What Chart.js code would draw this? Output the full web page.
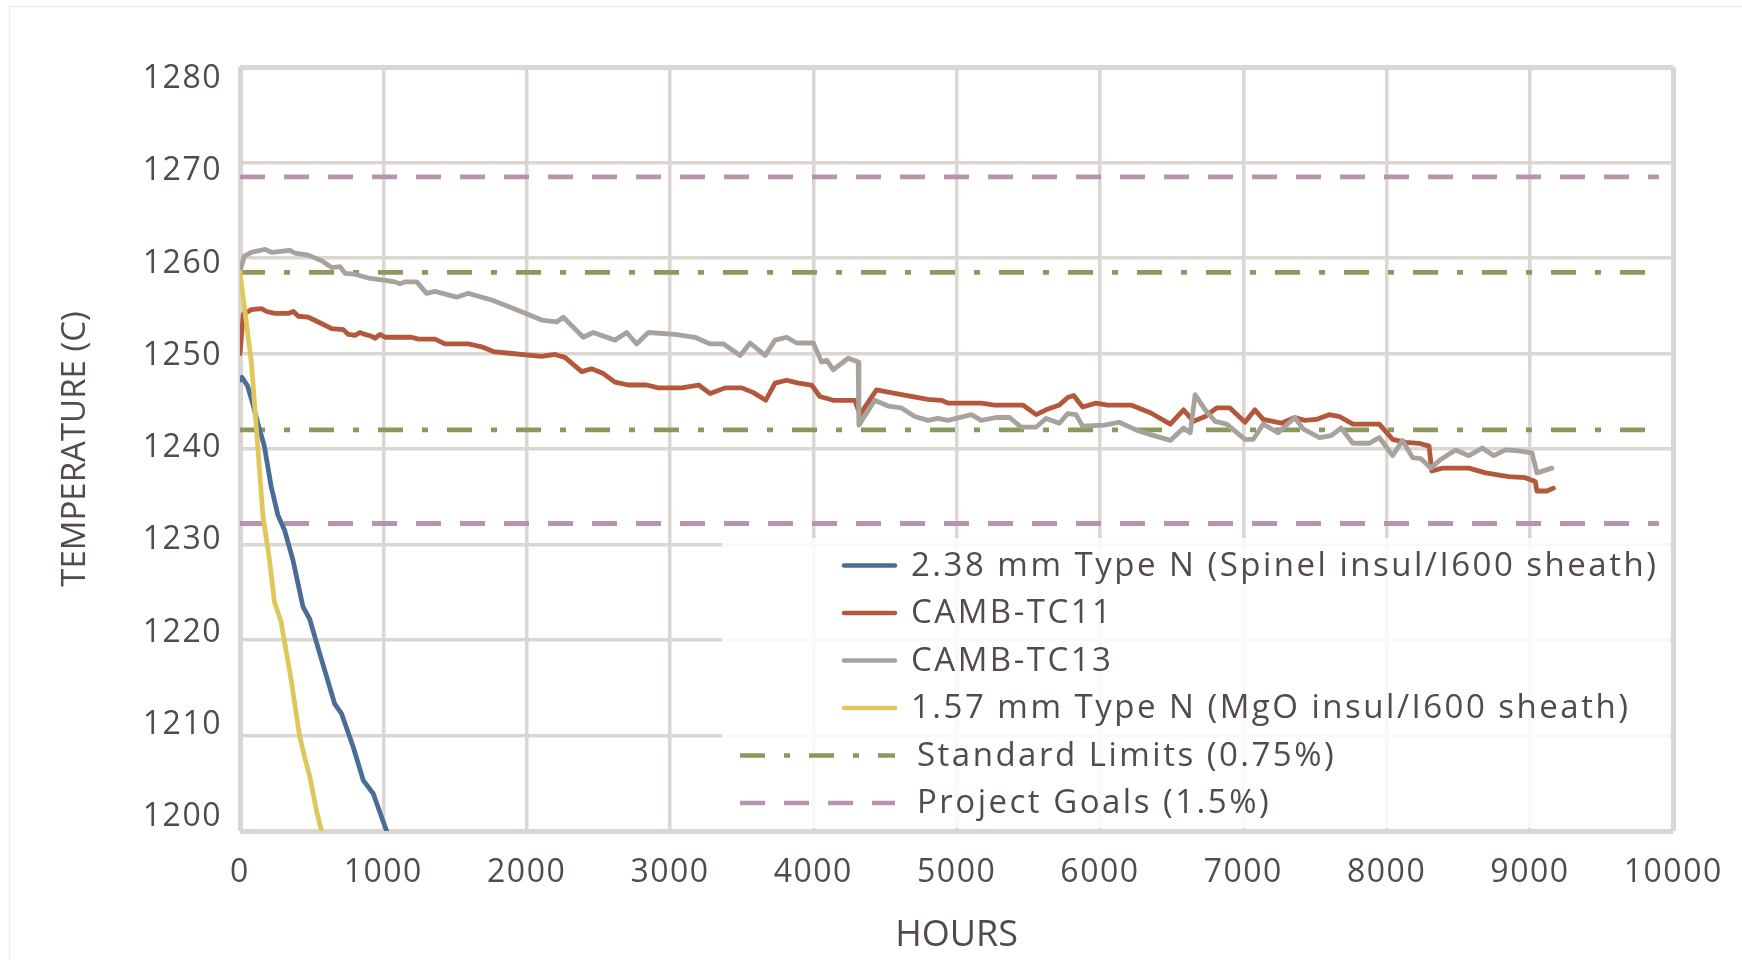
<!DOCTYPE html>
<html>
<head>
<meta charset="utf-8">
<script src="https://cdn.jsdelivr.net/npm/chart.js@4.4.1/dist/chart.umd.min.js"></script>
<style>
  html, body { margin: 0; padding: 0; background: #fff; }
  #wrap { width: 1742px; height: 960px; position: relative; }
</style>
</head>
<body>
<div id="wrap"><canvas id="chart" width="1742" height="960"></canvas></div>
<script>
// --- adatok (leolvasva az ábráról) ---
const xTicks = [0, 1000, 2000, 3000, 4000, 5000, 6000, 7000, 8000, 9000, 10000];
const yTicks = [1200, 1210, 1220, 1230, 1240, 1250, 1260, 1270, 1280];

// 2.38 mm Type N (Spinel insul/I600 sheath)
const typeN238Hours = [0, 14, 53, 88, 124, 170, 217, 264, 311, 369, 439, 486, 556, 661, 708, 790, 860, 930, 1023];
const typeN238Temp = [1247.2, 1247.5, 1246.6, 1244.8, 1242.7, 1240.3, 1236.1, 1233.1, 1231.5, 1228.4, 1223.5, 1222.2, 1218.6, 1213.3, 1212.3, 1208.8, 1205.3, 1203.9, 1200.0];

// CAMB-TC11
const tc11Hours = [0, 23, 80, 150, 186, 244, 337, 372, 407, 477, 547, 640, 721, 756, 802, 837, 872, 919, 942, 977,
  1012, 1198, 1244, 1360, 1430, 1593, 1686, 1767, 1895, 2105, 2198, 2267, 2384, 2453, 2535, 2616, 2709, 2837, 2919, 3081,
  3200, 3281, 3385, 3501, 3582, 3668, 3733, 3814, 3896, 3988, 4046, 4139, 4290, 4325, 4441, 4615, 4800, 4893, 4940, 5172,
  5265, 5462, 5555, 5624, 5717, 5775, 5817, 5879, 5972, 6053, 6216, 6352, 6491, 6583, 6653, 6734, 6815, 6907, 7012, 7081,
  7139, 7266, 7359, 7428, 7509, 7602, 7671, 7764, 7949, 8042, 8134, 8227, 8296, 8315, 8389, 8574, 8690, 8852, 8968, 9037,
  9049, 9118, 9164];
const tc11Temp = [1250.0, 1254.1, 1254.6, 1254.7, 1254.4, 1254.2, 1254.2, 1254.4, 1253.9, 1253.8, 1253.3, 1252.6, 1252.5, 1252.0, 1251.9, 1252.2, 1252.0, 1251.8, 1251.6, 1252.0,
  1251.7, 1251.7, 1251.5, 1251.5, 1251.0, 1251.0, 1250.7, 1250.2, 1250.0, 1249.7, 1249.9, 1249.6, 1248.1, 1248.4, 1247.9, 1247.0, 1246.7, 1246.7, 1246.4, 1246.4,
  1246.7, 1245.8, 1246.4, 1246.4, 1245.9, 1245.1, 1246.9, 1247.2, 1246.9, 1246.7, 1245.5, 1245.1, 1245.1, 1243.6, 1246.2, 1245.7, 1245.2, 1245.1, 1244.8, 1244.8,
  1244.6, 1244.6, 1243.6, 1244.1, 1244.6, 1245.4, 1245.6, 1244.4, 1244.8, 1244.6, 1244.6, 1243.8, 1242.6, 1244.1, 1242.9, 1243.4, 1244.3, 1244.3, 1242.8, 1244.1,
  1243.1, 1242.7, 1243.3, 1243.0, 1243.1, 1243.6, 1243.4, 1242.6, 1242.6, 1241.0, 1240.7, 1240.6, 1240.3, 1237.7, 1238.0, 1238.0, 1237.5, 1237.1, 1237.0, 1236.6,
  1235.6, 1235.6, 1235.9];

// CAMB-TC13
const tc13Hours = [0, 30, 80, 175, 220, 350, 384, 477, 570, 640, 698, 733, 802, 895, 988, 1081, 1116, 1151, 1233, 1302,
  1360, 1512, 1593, 1756, 1895, 2105, 2209, 2256, 2395, 2465, 2616, 2698, 2767, 2849, 3035, 3174, 3281, 3374, 3490, 3559,
  3664, 3733, 3814, 3884, 4000, 4058, 4093, 4139, 4244, 4313, 4318, 4429, 4522, 4615, 4708, 4800, 4870, 4940, 5102, 5172,
  5276, 5369, 5450, 5555, 5624, 5717, 5775, 5833, 5879, 6030, 6135, 6251, 6352, 6491, 6583, 6630, 6664, 6734, 6803, 6884,
  7012, 7069, 7139, 7243, 7359, 7417, 7532, 7613, 7683, 7764, 7880, 7949, 8042, 8111, 8181, 8238, 8308, 8377, 8481, 8574,
  8667, 8748, 8829, 8921, 9014, 9049, 9153];
const tc13Temp = [1258.6, 1260.2, 1260.6, 1260.9, 1260.6, 1260.8, 1260.5, 1260.3, 1259.7, 1259.0, 1259.1, 1258.4, 1258.3, 1257.9, 1257.7, 1257.5, 1257.3, 1257.5, 1257.5, 1256.3,
  1256.5, 1255.9, 1256.3, 1255.6, 1254.8, 1253.5, 1253.3, 1253.8, 1251.7, 1252.2, 1251.4, 1252.2, 1251.0, 1252.2, 1252.0, 1251.7, 1251.0, 1251.0, 1249.8, 1251.1,
  1249.8, 1251.4, 1251.7, 1251.1, 1251.1, 1249.1, 1249.3, 1248.3, 1249.5, 1249.1, 1242.5, 1245.1, 1244.5, 1244.3, 1243.4, 1243.0, 1243.2, 1243.0, 1243.6, 1243.0,
  1243.3, 1243.3, 1242.3, 1242.3, 1243.2, 1242.7, 1243.7, 1243.6, 1242.4, 1242.5, 1242.8, 1242.0, 1241.5, 1240.9, 1242.2, 1241.7, 1245.7, 1244.1, 1242.9, 1242.6,
  1241.0, 1241.0, 1242.6, 1241.7, 1243.3, 1242.1, 1241.2, 1241.4, 1242.2, 1240.6, 1240.6, 1241.2, 1239.3, 1240.9, 1239.1, 1239.0, 1238.0, 1238.9, 1239.9, 1239.3,
  1240.1, 1239.3, 1239.9, 1239.8, 1239.6, 1237.5, 1238.0];

// 1.57 mm Type N (MgO insul/I600 sheath)
const typeN157Hours = [0, 80, 115, 160, 205, 240, 285, 355, 415, 450, 490, 535, 570];
const typeN157Temp = [1258.5, 1249.0, 1242.0, 1233.0, 1228.5, 1224.0, 1222.0, 1216.0, 1210.0, 1207.8, 1205.5, 1202.0, 1200.0];

// vízszintes határvonalak
const limitHours = [0, 9900];
const standardUpper = 1258.5;
const standardLower = 1242.0;
const projectUpper = 1268.5;
const projectLower = 1232.2;

// --- színek ---
const C_BLUE = '#4a6d97';
const C_RED = '#b3583b';
const C_GRAY = '#a8a19c';
const C_YELLOW = '#e0c75c';
const C_GREEN = '#8b9a5c';
const C_PURPLE = '#b893ad';
const C_GRID = '#dcd6d2';
const C_TEXT = '#524b48';

const DASH_STD = [25, 19, 6, 19];
const DASH_PROJ = [25, 19];

function toPoints(xs, ys) {
  return xs.map((x, i) => ({ x: x, y: ys[i] }));
}
function flatLine(v) {
  return limitHours.map(h => ({ x: h, y: v }));
}

const lineBase = { pointRadius: 0, borderWidth: 4.8, tension: 0, borderJoinStyle: 'round', borderCapStyle: 'round', fill: false };
const refBase = { ...lineBase, borderCapStyle: 'butt', borderWidth: 4.8 };

const datasets = [
  { ...lineBase, label: '2.38 mm Type N (Spinel insul/I600 sheath)', data: toPoints(typeN238Hours, typeN238Temp), borderColor: C_BLUE, order: 3 },
  { ...lineBase, label: 'CAMB-TC11', data: toPoints(tc11Hours, tc11Temp), borderColor: C_RED, order: 2 },
  { ...lineBase, label: 'CAMB-TC13', data: toPoints(tc13Hours, tc13Temp), borderColor: C_GRAY, order: 1 },
  { ...lineBase, label: '1.57 mm Type N (MgO insul/I600 sheath)', data: toPoints(typeN157Hours, typeN157Temp), borderColor: C_YELLOW, order: 0 },
  { ...refBase, label: 'Standard Limits (0.75%)', data: flatLine(standardUpper), borderColor: C_GREEN, borderDash: DASH_STD, order: 4 },
  { ...refBase, label: 'Standard Limits (0.75%)', data: flatLine(standardLower), borderColor: C_GREEN, borderDash: DASH_STD, order: 4 },
  { ...refBase, label: 'Project Goals (1.5%)', data: flatLine(projectUpper), borderColor: C_PURPLE, borderDash: DASH_PROJ, order: 5 },
  { ...refBase, label: 'Project Goals (1.5%)', data: flatLine(projectLower), borderColor: C_PURPLE, borderDash: DASH_PROJ, order: 5 }
];

// halvány keret a kép szélén
const framePlugin = {
  id: 'frame',
  beforeDraw(chart) {
    const ctx = chart.ctx;
    ctx.letterSpacing = '0px';
    ctx.save();
    ctx.strokeStyle = '#ececec';
    ctx.lineWidth = 1.5;
    ctx.beginPath();
    ctx.moveTo(9.5, chart.height);
    ctx.lineTo(9.5, 6.5);
    ctx.lineTo(chart.width, 6.5);
    ctx.stroke();
    ctx.restore();
  },
  // a tengelyfeliratok ritkított betűközzel
  afterDatasetsDraw(chart) {
    chart.ctx.letterSpacing = '1.5px';
  }
};

// jelmagyarázat a rajzterületen belül
const legendPlugin = {
  id: 'insideLegend',
  afterDraw(chart) {
    const ctx = chart.ctx;
    const area = chart.chartArea;
    ctx.save();
    ctx.fillStyle = 'rgba(255,255,255,0.85)';
    ctx.fillRect(722, 538, area.right - 3 - 722, area.bottom - 3 - 538);

    const seen = [];
    chart.data.datasets.forEach(ds => {
      if (seen.find(s => s.label === ds.label)) return;
      seen.push(ds);
    });

    ctx.font = '33px "Open Sans"';
    ctx.letterSpacing = '2.5px';
    ctx.textBaseline = 'middle';
    ctx.textAlign = 'left';
    seen.forEach((ds, i) => {
      const y = 565.5 + i * 47.5;
      const dashed = !!ds.borderDash;
      ctx.strokeStyle = ds.borderColor;
      ctx.lineWidth = 4.5;
      ctx.lineCap = dashed ? 'butt' : 'round';
      ctx.setLineDash(dashed ? ds.borderDash : []);
      ctx.beginPath();
      ctx.moveTo(dashed ? 740 : 844, y);
      ctx.lineTo(895, y);
      ctx.stroke();
      ctx.setLineDash([]);
      ctx.fillStyle = C_TEXT;
      ctx.fillText(ds.label, dashed ? 917 : 911, y + 1);
    });
    ctx.restore();
  }
};

const edgeWidth = (edgeA, edgeB) => (c) => (c.tick && (c.tick.value === edgeA || c.tick.value === edgeB)) ? 5 : 3.5;

new Chart(document.getElementById('chart'), {
  type: 'line',
  data: { datasets: datasets },
  plugins: [framePlugin, legendPlugin],
  options: {
    responsive: false,
    animation: false,
    devicePixelRatio: 1,
    layout: { padding: { top: 67, right: 68, bottom: 0, left: 0 } },
    plugins: { legend: { display: false }, tooltip: { enabled: false } },
    scales: {
      x: {
        type: 'linear', min: 0, max: 10000,
        afterBuildTicks: s => { s.ticks = xTicks.map(v => ({ value: v })); },
        grid: { color: C_GRID, lineWidth: edgeWidth(0, 10000), drawTicks: false },
        border: { display: false },
        ticks: { z: 1, padding: 23, color: C_TEXT, maxRotation: 0, autoSkip: false,
          font: { family: 'Open Sans', size: 32 }, callback: v => String(v) },
        title: { display: true, text: 'HOURS', color: C_TEXT, font: { family: 'Open Sans', size: 36 },
          padding: { top: 0, bottom: 3 } },
        afterFit: s => { s.height = 129; }
      },
      y: {
        type: 'linear', min: 1200, max: 1280, position: 'left', weight: 0,
        afterBuildTicks: s => { s.ticks = yTicks.map(v => ({ value: v })); },
        grid: { color: C_GRID, lineWidth: edgeWidth(1200, 1280), drawTicks: false },
        border: { display: false },
        ticks: { display: false },
        afterFit: s => { s.width = 0; }
      },
      // külön skála csak a feliratoknak: az eredeti ábrán a címkék kissé elcsúsznak a rácshoz képest
      yl: {
        type: 'linear', min: 1198.48, max: 1281.3, position: 'left', weight: 1,
        afterBuildTicks: s => { s.ticks = yTicks.map(v => ({ value: v })); },
        grid: { display: false, drawTicks: false },
        border: { display: false },
        ticks: { z: 1, padding: 18, color: C_TEXT, font: { family: 'Open Sans', size: 32 }, callback: v => String(v) },
        title: { display: true, text: 'TEMPERATURE (C)', color: C_TEXT, font: { family: 'Open Sans', size: 33 },
          padding: { top: 56, bottom: 0 } },
        afterFit: s => { s.width = 240; }
      }
    }
  }
});
</script>
</body>
</html>
